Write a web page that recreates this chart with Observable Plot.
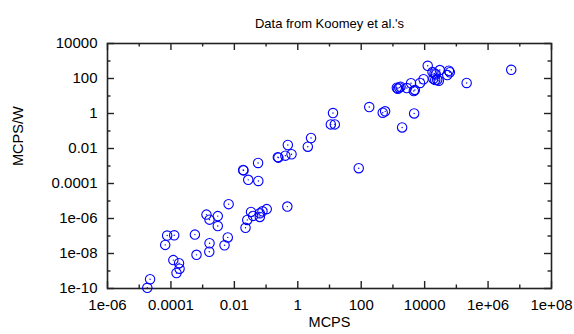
<!DOCTYPE html>
<html>
<head>
<meta charset="utf-8">
<script src="https://cdn.jsdelivr.net/npm/d3@7"></script>
<script src="https://cdn.jsdelivr.net/npm/@observablehq/plot@0.6"></script>
<style>
  html, body { margin: 0; padding: 0; background: #fff; }
  #chart svg { display: block; }
</style>
</head>
<body>
<div id="chart"></div>
<script>
const titleText = "Data from Koomey et al.'s";
const xLabel = "MCPS";
const yLabel = "MCPS/W";

const mcps = [
  1.8e-5, 2.2e-5, 7.6e-5, 1.27e-4, 6.6e-5, 5.7e-4, 1.32e-3, 1.65e-3, 3.0e-3, 3.0e-3,
  6.6e-3, 6.2e-3, 4.9e-3, 1.65e-3, 1.62e-3, 6.4e-4, 1.19e-4, 1.8e-4, 1.87e-4, 1.5e-4,
  0.019, 0.0194, 0.0274, 0.057, 0.056, 0.0225, 0.0255, 0.0335, 0.039, 0.0635,
  0.0635, 0.077, 0.105, 0.468, 0.235, 0.245, 0.405, 0.635, 0.485, 2.07,
  2.62, 12.9, 11.0, 14.7, 179, 477, 568, 4670, 1950, 83.5,
  12500, 17700, 20500, 30100, 58000, 62400, 24900, 21600, 28000, 51600,
  9230, 7160, 3720, 4560, 4910, 2750, 1330, 1430, 1740, 1580,
  211000, 5.38e6, 22500, 18800
];
const mcpsPerWatt = [
  1.1e-10, 3.4e-10, 1.06e-7, 1.1e-7, 3.1e-8, 1.2e-7, 1.67e-6, 8.6e-7, 1.37e-6, 3.7e-7,
  6.6e-6, 8.3e-8, 2.95e-8, 3.84e-8, 1.26e-8, 8.4e-9, 4.2e-9, 2.8e-9, 1.35e-9, 7.7e-10,
  5.9e-4, 5.6e-4, 1.62e-4, 1.4e-4, 1.49e-3, 2.94e-7, 8.3e-7, 2.38e-6, 1.41e-6, 1.23e-6,
  1.98e-6, 2.58e-6, 3.44e-6, 4.8e-6, 3.2e-3, 3.0e-3, 3.9e-3, 4.7e-3, 0.0159, 0.0127,
  0.0398, 1.06, 0.238, 0.238, 2.34, 1.11, 1.33, 1.01, 0.16, 7.5e-4,
  533, 233, 194, 303, 277, 227, 84.7, 81.5, 74.3, 157,
  90.5, 55.6, 53.5, 19.2, 22.2, 28.5, 29.6, 26, 33.8, 30.8,
  55.6, 315, 175, 96.6
];

const xDomain = [1e-6, 1e8];
const yDomain = [1e-10, 1e4];
const xTickValues = [1e-6, 1e-4, 1e-2, 1, 1e2, 1e4, 1e6, 1e8];
const xTickLabels = ["1e-06", "0.0001", "0.01", "1", "100", "10000", "1e+06", "1e+08"];
const xMinorTicks = [1e-5, 1e-3, 1e-1, 1e1, 1e3, 1e5, 1e7];
const yTickValues = [1e-10, 1e-8, 1e-6, 1e-4, 1e-2, 1, 1e2, 1e4];
const yTickLabels = ["1e-10", "1e-08", "1e-06", "0.0001", "0.01", "1", "100", "10000"];
const yMinorTicks = [1e-9, 1e-7, 1e-5, 1e-3, 1e-1, 1e1, 1e3];

const data = mcps.map((x, i) => ({x, y: mcpsPerWatt[i]}));

function inwardTicks(xs, ys, len) {
  const s = {stroke: "#222", strokeWidth: 1.4};
  return [
    Plot.ruleX(xs, {x: d => d, y1: yDomain[0], y2: yDomain[0], insetTop: -len, ...s}),
    Plot.ruleX(xs, {x: d => d, y1: yDomain[1], y2: yDomain[1], insetBottom: -len, ...s}),
    Plot.ruleY(ys, {y: d => d, x1: xDomain[0], x2: xDomain[0], insetRight: -len, ...s}),
    Plot.ruleY(ys, {y: d => d, x1: xDomain[1], x2: xDomain[1], insetLeft: -len, ...s})
  ];
}

const chart = Plot.plot({
  width: 574,
  height: 334,
  marginLeft: 107,
  marginRight: 23,
  marginTop: 43,
  marginBottom: 46,
  style: {fontFamily: "'Liberation Sans', Arial, Helvetica, sans-serif", fontSize: "15px", background: "#fff", color: "#000"},
  x: {type: "log", domain: xDomain},
  y: {type: "log", domain: yDomain},
  marks: [
    ...inwardTicks(xTickValues, yTickValues, 7),
    ...inwardTicks(xMinorTicks, yMinorTicks, 3.5),
    Plot.frame({stroke: "#222", strokeWidth: 1.6}),
    Plot.axisX({ticks: xTickValues, tickFormat: d => xTickLabels[xTickValues.indexOf(d)], tickSize: 0, tickPadding: 11, label: null, fontSize: 15}),
    Plot.axisY({ticks: yTickValues, tickFormat: d => yTickLabels[yTickValues.indexOf(d)], tickSize: 0, tickPadding: 10, label: null, fontSize: 15}),
    Plot.dot(data, {x: "x", y: "y", r: 4.7, stroke: "#0000ff", fill: "none", strokeWidth: 1.1}),
    Plot.dot(data, {x: "x", y: "y", r: 0.7, fill: "#0000ff", stroke: "none"}),
    Plot.text([titleText], {frameAnchor: "top", dy: -25, fontSize: 13, fill: "#000"}),
    Plot.text([xLabel], {frameAnchor: "bottom", dy: 38, fontSize: 14.5, fill: "#000"}),
    Plot.text([yLabel], {frameAnchor: "left", dx: -89, rotate: -90, fontSize: 14.5, fill: "#000"})
  ]
});
document.getElementById("chart").appendChild(chart);
</script>
</body>
</html>
